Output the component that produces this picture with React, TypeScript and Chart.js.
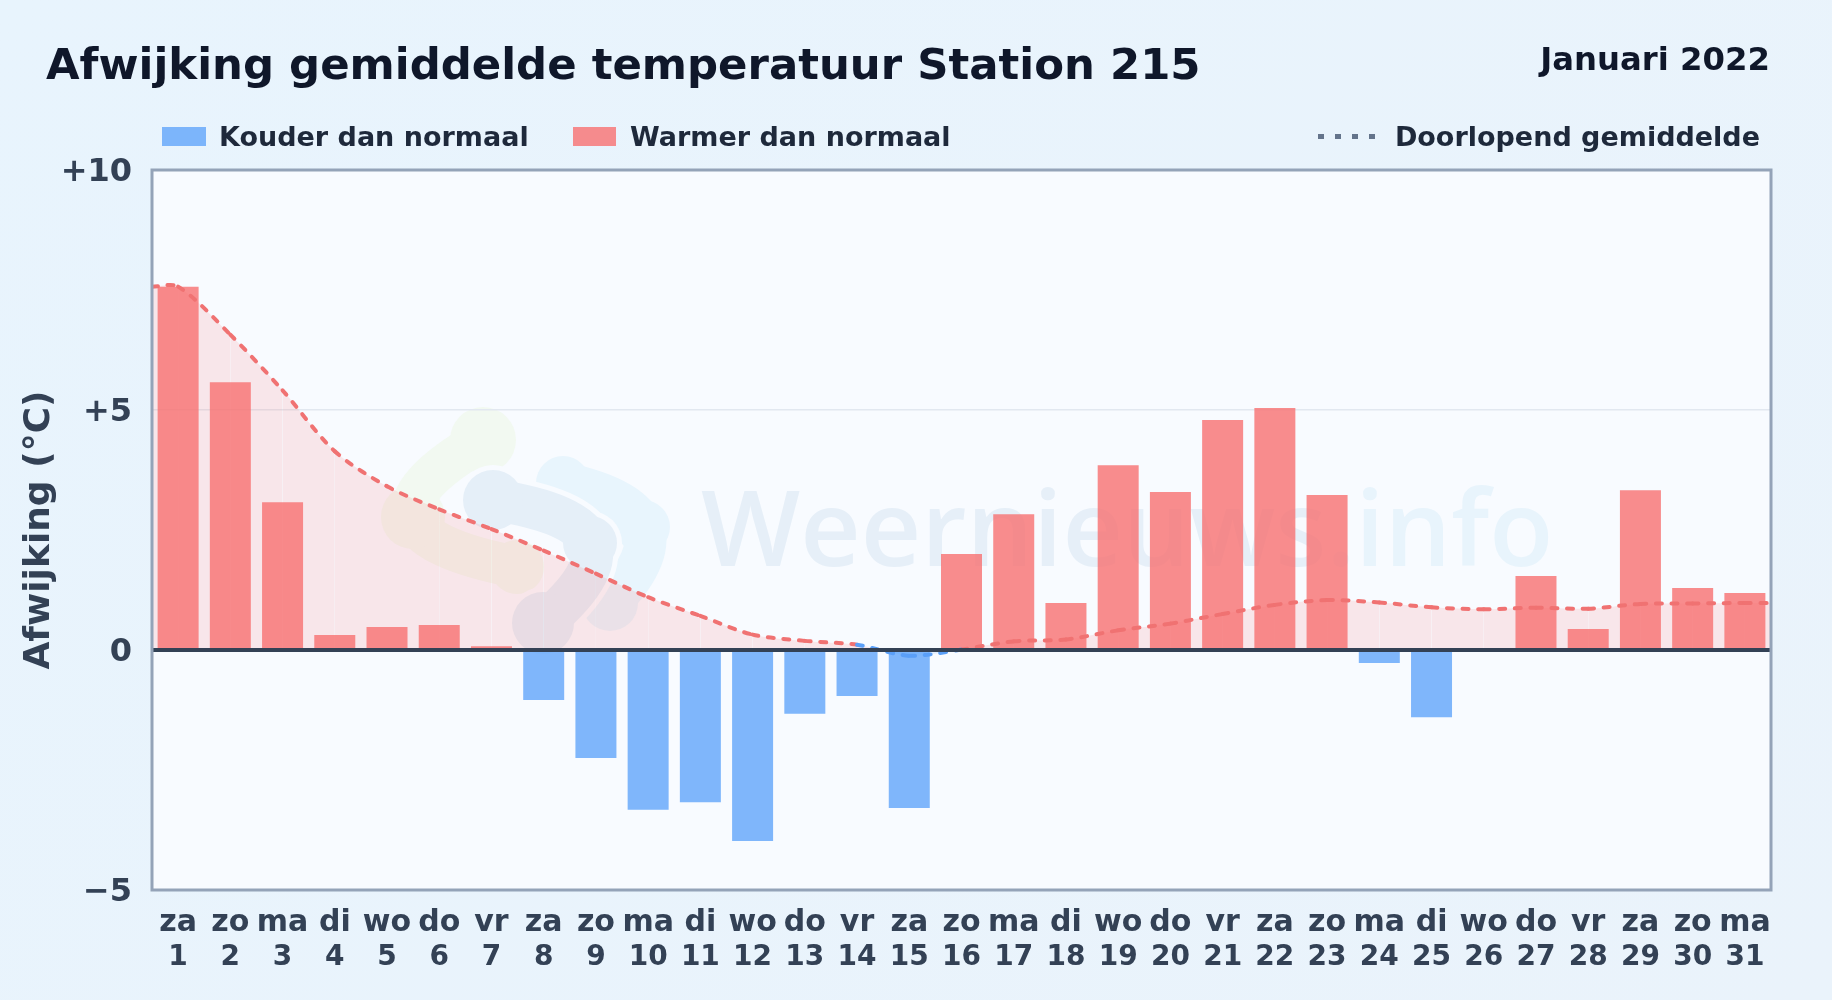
import React, { useEffect, useRef } from "react";
import { Chart, registerables } from "chart.js";

Chart.register(...registerables);

const weekdays = ["za","zo","ma","di","wo","do","vr","za","zo","ma","di","wo","do","vr","za","zo","ma","di","wo","do","vr","za","zo","ma","di","wo","do","vr","za","zo","ma"];
const dayNumbers = ["1","2","3","4","5","6","7","8","9","10","11","12","13","14","15","16","17","18","19","20","21","22","23","24","25","26","27","28","29","30","31"];
const dailyDeviation = [7.57,5.58,3.08,0.31,0.48,0.52,0.08,-1.04,-2.25,-3.33,-3.17,-3.98,-1.33,-0.96,-3.29,2.0,2.83,0.98,3.85,3.29,4.79,5.04,3.23,-0.27,-1.40,0,1.54,0.44,3.33,1.29,1.19];
const runningMean = [7.57,6.57,5.41,4.14,3.41,2.93,2.52,2.07,1.59,1.10,0.71,0.32,0.19,0.11,-0.12,0.01,0.18,0.22,0.41,0.55,0.75,0.94,1.04,0.99,0.89,0.85,0.88,0.86,0.96,0.97,0.98];
const yTickValues = { 10: "+10", 5: "+5", 0: "0", [-5]: "\u22125" } as Record<number, string>;

const FONT = "'DejaVu Sans', sans-serif";
const INK = "#334155";
const WARM_BAR = "rgba(248,113,113,0.8)";
const COLD_BAR = "rgba(96,165,250,0.8)";
const PLOT_BG = "#f8fbff";

function arm(ctx: CanvasRenderingContext2D, pts: number[][], w: number, color: string, halo = 0) {
  const [a, b, c] = pts;
  ctx.strokeStyle = color;
  ctx.fillStyle = color;
  ctx.lineWidth = w + halo * 2;
  ctx.lineCap = "round";
  ctx.lineJoin = "round";
  ctx.beginPath();
  ctx.moveTo(a[0], a[1]);
  ctx.quadraticCurveTo(2 * b[0] - (a[0] + c[0]) / 2, 2 * b[1] - (a[1] + c[1]) / 2, c[0], c[1]);
  ctx.stroke();
  pts.forEach((p) => {
    ctx.beginPath();
    ctx.arc(p[0], p[1], p[2] + halo, 0, Math.PI * 2);
    ctx.fill();
  });
}

const decorPlugin = {
  id: "decor",
  beforeDraw(chart: any) {
    const { ctx, chartArea: a } = chart;
    ctx.save();
    ctx.fillStyle = PLOT_BG;
    ctx.fillRect(a.left, a.top, a.right - a.left, a.bottom - a.top);
    const green = [[483, 440, 33], [413, 517, 32], [517, 567, 27]];
    const light = [[563, 483, 27], [643, 527, 27], [610, 603, 28]];
    const dark = [[493, 500, 30], [590, 543, 27], [543, 623, 31]];
    arm(ctx, green, 42, "#f2f9f1");
    arm(ctx, light, 42, "#e8f5fd");
    arm(ctx, dark, 42, PLOT_BG, 5);
    arm(ctx, dark, 42, "#e5eff8");
    ctx.textBaseline = "alphabetic";
    ctx.textAlign = "left";
    ctx.font = `600 105px 'Open Sans', sans-serif`;
    ctx.fillStyle = "#e6eff8";
    ctx.fillText("Weernieuws", 701, 566);
    const w = ctx.measureText("Weernieuws").width;
    ctx.fillStyle = "#e8f4fc";
    ctx.fillText(".info", 701 + w, 566);
    ctx.restore();
  },
  afterDatasetsDraw(chart: any) {
    const { ctx, chartArea: a, scales } = chart;
    const y0 = scales.y.getPixelForValue(0);
    ctx.save();
    ctx.strokeStyle = INK;
    ctx.lineWidth = 4;
    ctx.beginPath();
    ctx.moveTo(a.left, y0);
    ctx.lineTo(a.right, y0);
    ctx.stroke();
    ctx.strokeStyle = "#94a3b8";
    ctx.lineWidth = 3;
    ctx.strokeRect(a.left, a.top, a.right - a.left, a.bottom - a.top);
    ctx.restore();
  },
};

const abs = (s: React.CSSProperties): React.CSSProperties => ({ position: "absolute", whiteSpace: "nowrap", fontFamily: FONT, fontWeight: 700, ...s });

export default function App() {
  const ref = useRef<HTMLCanvasElement>(null);
  useEffect(() => {
    const linePoints = [
      { x: 0.5, y: runningMean[0] },
      ...runningMean.map((y, i) => ({ x: i + 1, y })),
      { x: 31.5, y: runningMean[runningMean.length - 1] },
    ];
    const chart = new Chart(ref.current!, {
      type: "bar",
      data: {
        labels: weekdays,
        datasets: [
          {
            type: "line",
            label: "Doorlopend gemiddelde",
            data: linePoints as any,
            xAxisID: "x2",
            order: 1,
            pointRadius: 0,
            borderWidth: 4,
            borderColor: "#f07272",
            borderDash: [6, 9.5],
            borderCapStyle: "round",
            tension: 0.3,
            fill: { target: { value: 0 }, above: "rgba(248,113,113,0.15)", below: "rgba(96,165,250,0.15)" },
            segment: {
              borderColor: (c: any) => (c.p0.parsed.y < 0 || c.p1.parsed.y < 0 ? "#5a9ff8" : "#f07272"),
              borderDashOffset: (c: any) => c.p0DataIndex * 1e-6,
            },
          } as any,
          {
            label: "Afwijking",
            data: dailyDeviation,
            order: 2,
            grouped: false,
            backgroundColor: (c: any) => (c.raw < 0 ? COLD_BAR : WARM_BAR),
            barPercentage: 0.785,
            categoryPercentage: 1,
            borderWidth: 0,
          },
        ],
      },
      options: {
        responsive: false,
        animation: false,
        devicePixelRatio: 1,
        layout: { padding: { top: 170, right: 61, left: 0, bottom: 7 } },
        plugins: {
          legend: { display: false },
          title: { display: false },
          tooltip: { enabled: false },
          filler: { drawTime: "beforeDatasetsDraw" },
        } as any,
        scales: {
          x: {
            position: "bottom",
            weight: 0,
            grid: { display: false },
            border: { display: false },
            ticks: { color: INK, font: { family: FONT, weight: "bold", size: 30 }, autoSkip: false, maxRotation: 0, minRotation: 0, padding: 7 },
            afterFit: (s: any) => { s.height = 43; },
          },
          xDay: {
            type: "category",
            labels: dayNumbers,
            position: "bottom",
            weight: 1,
            offset: true,
            grid: { display: false },
            border: { display: false },
            ticks: { color: INK, font: { family: FONT, weight: "bold", size: 28 }, autoSkip: false, maxRotation: 0, minRotation: 0, padding: 0 },
            afterFit: (s: any) => { s.height = 60; },
          },
          x2: { type: "linear", display: false, offset: false, min: 0.5, max: 31.5 },
          y: {
            min: -5,
            max: 10,
            grid: { color: (c: any) => (c.tick.value === 5 ? "#e2e8f0" : "transparent"), lineWidth: 1.5, drawTicks: false },
            border: { display: false },
            ticks: {
              stepSize: 5,
              color: INK,
              padding: 20,
              labelOffset: 2.5,
              font: { family: FONT, weight: "bold", size: 32 },
              callback: (v: any) => yTickValues[v] ?? "",
            },
            title: { display: true, text: "Afwijking (\u00b0C)", color: INK, font: { family: FONT, weight: "bold", size: 36 }, padding: { top: 18, bottom: 0 } },
            afterFit: (s: any) => { s.width = 152; },
          },
        },
      },
      plugins: [decorPlugin],
    } as any);
    return () => chart.destroy();
  }, []);

  return (
    <div style={{ position: "absolute", left: 0, top: 0, width: 1832, height: 1000, overflow: "hidden", background: "linear-gradient(135deg,#e8f4fd 0%,#eaf3fb 100%)" }}>
      <canvas ref={ref} width={1832} height={1000} style={{ display: "block", position: "absolute", left: 0, top: 0 }} />
      <div style={abs({ left: 46, top: 39, fontSize: 43.4, lineHeight: "50px", color: "#0f172a" })}>Afwijking gemiddelde temperatuur Station 215</div>
      <div style={abs({ right: 62, top: 40, fontSize: 32.3, lineHeight: "38px", color: "#0f172a" })}>Januari 2022</div>
      <div style={{ position: "absolute", left: 162, top: 127, width: 44, height: 19, background: COLD_BAR }} />
      <div style={abs({ left: 219, top: 121, fontSize: 27, lineHeight: "32px", color: "#1e293b" })}>Kouder dan normaal</div>
      <div style={{ position: "absolute", left: 573, top: 127, width: 43, height: 19, background: WARM_BAR }} />
      <div style={abs({ left: 630, top: 121, fontSize: 27, lineHeight: "32px", color: "#1e293b" })}>Warmer dan normaal</div>
      <div style={{ position: "absolute", left: 1318, top: 134, width: 57, height: 5, background: "repeating-linear-gradient(90deg,#64748b 0 6px,transparent 6px 17px)" }} />
      <div style={abs({ right: 72, top: 121, fontSize: 27, lineHeight: "32px", color: "#1e293b" })}>Doorlopend gemiddelde</div>
    </div>
  );
}
